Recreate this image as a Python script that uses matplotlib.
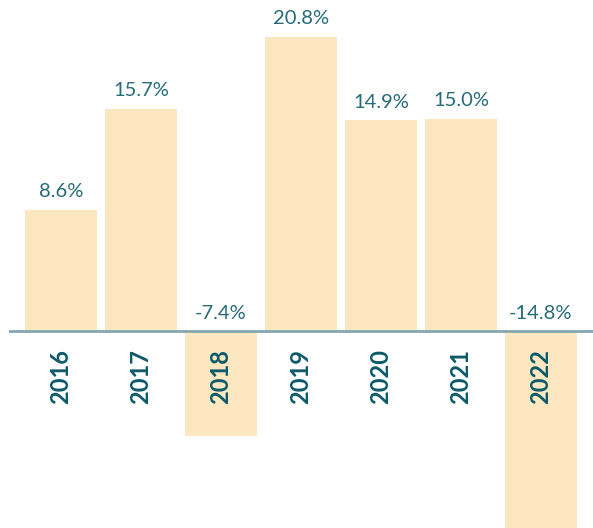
import matplotlib
matplotlib.use("Agg")
import matplotlib.pyplot as plt

years = ["2016", "2017", "2018", "2019", "2020", "2021", "2022"]
returns = [8.6, 15.7, -7.4, 20.8, 14.9, 15.0, -14.8]

bar_color = "#FDE7C0"
label_color = "#256B78"
year_color = "#0D5A69"
line_color = "#86A6AF"

fig = plt.figure(figsize=(5.93, 5.28), dpi=100)
ax = fig.add_axes([9 / 593, 0, 584 / 593, 1])

x = list(range(len(years)))
ax.bar(x, returns, width=0.9, color=bar_color, zorder=1)
ax.axhline(0, color=line_color, linewidth=2, zorder=2)

for xi, val, yr in zip(x, returns, years):
    top = max(val, 0)
    ax.annotate(f"{val:.1f}%", (xi, top), xytext=(0, 7), textcoords="offset points",
                ha="center", va="bottom", fontsize=14.5, color=label_color,
                family=["Lato", "DejaVu Sans"])
    ax.annotate(yr, (xi, 0), xytext=(0, -13), textcoords="offset points",
                ha="center", va="top", rotation=90, fontsize=17, fontweight="bold",
                color=year_color, family=["Lato", "DejaVu Sans"])

ax.set_xlim(-0.65, 6.65)
ax.set_ylim(-13.9, 23.4)
ax.axis("off")

fig.savefig("out.png", dpi=100)
